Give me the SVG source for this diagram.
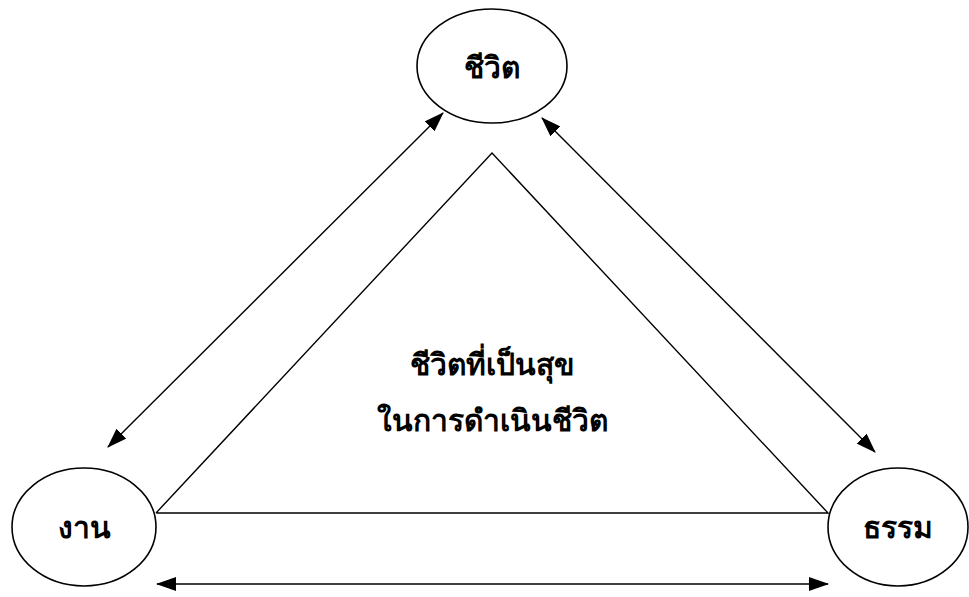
<svg xmlns="http://www.w3.org/2000/svg" width="969" height="597" viewBox="0 0 969 597">
<style>
.node ellipse{fill:#fff;stroke:#000;stroke-width:1.6}
.lbl{font-family:"Liberation Serif","DejaVu Serif",serif;font-weight:bold;font-size:30px;text-anchor:middle;fill:#000}
.conn line,.conn polyline{stroke:#000;stroke-width:1.4;fill:none}
</style>
<defs>
<marker id="ah" viewBox="0 0 20 14" refX="19" refY="7" markerWidth="20" markerHeight="14" markerUnits="userSpaceOnUse" orient="auto-start-reverse">
<path d="M0,0 L20,7 L0,14 Z" fill="#000"/>
</marker>
</defs>
<rect width="969" height="597" fill="#fff"/>
<g class="conn" id="connectors">
<polyline points="156,513 492,153 828,513 156,513"/>
<line x1="108" y1="447" x2="443" y2="113" marker-start="url(#ah)" marker-end="url(#ah)"/>
<line x1="542" y1="118" x2="875" y2="452" marker-start="url(#ah)" marker-end="url(#ah)"/>
<line x1="157" y1="584" x2="828" y2="584" marker-start="url(#ah)" marker-end="url(#ah)"/>
</g>
<g class="node" id="node-life">
<ellipse cx="492" cy="66" rx="75" ry="57"/>
<text class="lbl" x="492" y="78">ชีวิต</text>
</g>
<g class="node" id="node-work">
<ellipse cx="84" cy="527" rx="72" ry="59"/>
<text class="lbl" x="84" y="538">งาน</text>
</g>
<g class="node" id="node-dharma">
<ellipse cx="898" cy="527" rx="70" ry="59"/>
<text class="lbl" x="898" y="538">ธรรม</text>
</g>
<g id="center-label">
<text class="lbl" x="492" y="375">ชีวิตที่เป็นสุข</text>
<text class="lbl" x="492" y="431">ในการดำเนินชีวิต</text>
</g>
</svg>
